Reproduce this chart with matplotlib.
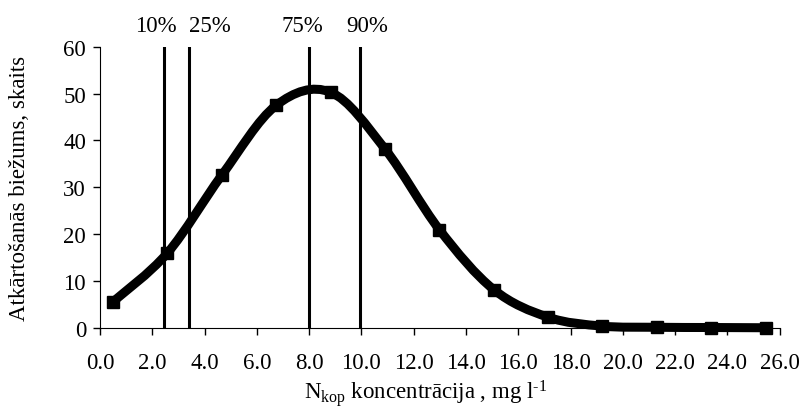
import numpy as np
import matplotlib
matplotlib.use("Agg")
import matplotlib.pyplot as plt
from matplotlib.path import Path
from matplotlib.patches import PathPatch

plt.rcParams['font.family'] = ['Liberation Serif', 'DejaVu Serif']
plt.rcParams['mathtext.fontset'] = 'custom'
plt.rcParams['mathtext.rm'] = 'Liberation Serif'
plt.rcParams['mathtext.it'] = 'Liberation Serif:italic'

# bin centres (mg/l) and counts
konc = [0.5, 2.58, 4.66, 6.74, 8.82, 10.9, 12.98, 15.06, 17.14, 19.22, 21.3, 23.38, 25.46]
skaits = [5.6, 16.0, 32.6, 47.5, 50.3, 38.2, 21.0, 8.2, 2.3, 0.4, 0.15, 0.1, 0.05]

# percentile lines
proc_labels = ['10%', '25%', '75%', '90%']
proc_x = [2.46, 3.42, 7.99, 9.95]
label_x = [2.14, 4.2, 7.76, 10.21]

fs = 16.5

fig = plt.figure(figsize=(8.03, 4.10), dpi=100)
ax = fig.add_axes([0.1245, 0.1976, 0.8465, 0.686])

# smoothed line like excel: cubic bezier segments through the points
x = np.array(konc)
y = np.array(skaits)
verts = [(x[0], y[0])]
codes = [Path.MOVETO]
n = len(x)
for i in range(n - 1):
    x0, y0 = (x[i - 1], y[i - 1]) if i > 0 else (x[i], y[i])
    x3, y3 = (x[i + 2], y[i + 2]) if i + 2 < n else (x[i + 1], y[i + 1])
    c1 = (x[i] + (x[i + 1] - x0) / 6, y[i] + (y[i + 1] - y0) / 6)
    c2 = (x[i + 1] - (x3 - x[i]) / 6, y[i + 1] - (y3 - y[i]) / 6)
    verts += [c1, c2, (x[i + 1], y[i + 1])]
    codes += [Path.CURVE4] * 3
ax.add_patch(PathPatch(Path(verts, codes), facecolor='none', edgecolor='black',
                       lw=6.5, capstyle='butt', joinstyle='round', zorder=3, clip_on=False))
ax.plot(konc, skaits, ls='none', marker='s', ms=9, color='black', zorder=4, clip_on=False)

for px in proc_x:
    ax.plot([px, px], [0, 60], color='black', lw=2.2, zorder=2)
for lab, lx in zip(proc_labels, label_x):
    ax.text(lx, 63.4, lab, ha='center', va='baseline', fontsize=fs)

ax.set_xlim(0, 26)
ax.set_ylim(0, 60)
ax.set_xticks(np.arange(0, 26.1, 2))
ax.set_xticklabels(['%.1f' % v for v in np.arange(0, 26.1, 2)])
ax.set_yticks(np.arange(0, 61, 10))
ax.spines['top'].set_visible(False)
ax.spines['right'].set_visible(False)
ax.tick_params(direction='out', length=5, width=1, labelsize=fs, pad=5)
ax.tick_params(axis='x', pad=12)

ax.set_xlabel(r'N$_{\rm kop}$ koncentrācija , mg l$^{\rm \text{-}1}$', fontsize=fs)
ax.set_ylabel('Atkārtošanās biežums, skaits', fontsize=fs)
ax.xaxis.set_label_coords(0.479, -0.176)
ax.yaxis.set_label_coords(-0.103, 0.5)

fig.savefig('out.png', dpi=100)
